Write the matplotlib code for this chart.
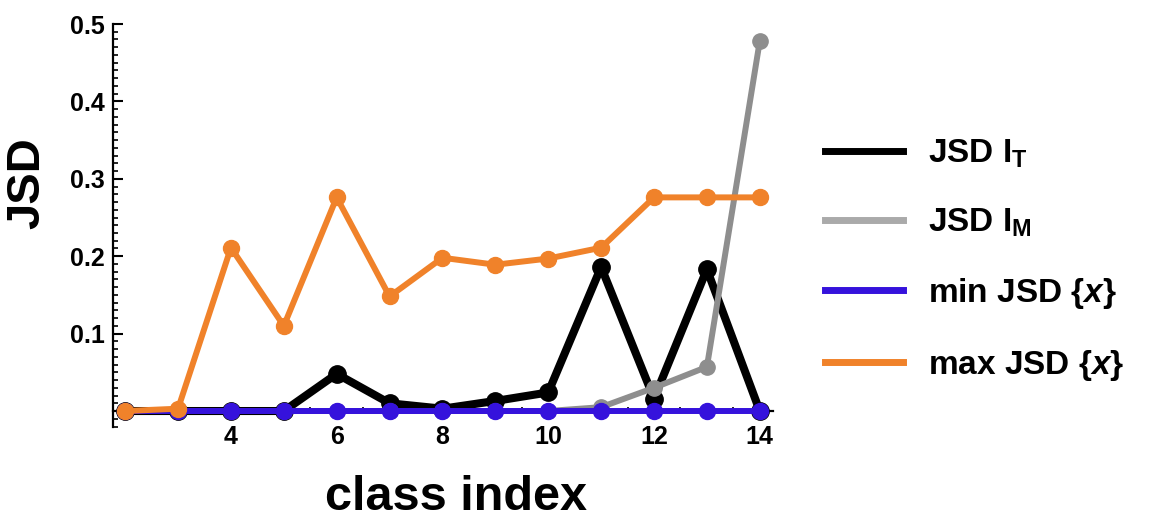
import matplotlib
matplotlib.use("Agg")
import matplotlib.pyplot as plt
from matplotlib.ticker import MultipleLocator

plt.rcParams['font.family'] = ['Liberation Sans', 'DejaVu Sans']
plt.rcParams['font.weight'] = 'bold'
plt.rcParams['mathtext.fontset'] = 'custom'
plt.rcParams['mathtext.rm'] = 'Liberation Sans:bold'
plt.rcParams['mathtext.bf'] = 'Liberation Sans:bold'
plt.rcParams['mathtext.it'] = 'Liberation Sans:bold:italic'

# ---- data ----
class_index = [2, 3, 4, 5, 6, 7, 8, 9, 10, 11, 12, 13, 14]
jsd_IT = [0.0, 0.0, 0.0, 0.0, 0.048, 0.010, 0.003, 0.013, 0.024, 0.186, 0.016, 0.183, 0.0]
jsd_IM = [0.0, 0.0, 0.0, 0.0, 0.0, 0.0, 0.0, 0.0, 0.0, 0.005, 0.030, 0.057, 0.478]
min_jsd = [0.0, 0.0, 0.0, 0.0, 0.0, 0.0, 0.0, 0.0, 0.0, 0.0, 0.0, 0.0, 0.0]
max_jsd = [0.0, 0.003, 0.211, 0.110, 0.276, 0.148, 0.198, 0.189, 0.197, 0.211, 0.276, 0.276, 0.276]

series_labels = [r'JSD I$_{\mathrm{T}}$', r'JSD I$_{\mathrm{M}}$',
                 r'min JSD {$\mathit{x}$}', r'max JSD {$\mathit{x}$}']
xtick_pos = [4, 6, 8, 10, 12, 14]
xtick_labels = ['4', '6', '8', '10', '12', '14']
ytick_pos = [0.1, 0.2, 0.3, 0.4, 0.5]
ytick_labels = ['0.1', '0.2', '0.3', '0.4', '0.5']

c_black = '#000000'
c_gray = '#8e8e8e'
c_blue = '#3512dc'
c_orange = '#f0822a'

W, H = 1162, 520
fig = plt.figure(figsize=(W / 100, H / 100), dpi=100)
ax = fig.add_axes([113 / W, 1 - 426.5 / H, 660 / W, (426.5 - 24) / H])

l1, = ax.plot(class_index, jsd_IT, '-o', color=c_black, lw=5.8, ms=12.5, zorder=3,
              label=series_labels[0], clip_on=False)
l2, = ax.plot(class_index, jsd_IM, '-o', color=c_gray, lw=4.3, ms=11, zorder=4,
              label=series_labels[1], clip_on=False)
l3, = ax.plot(class_index, min_jsd, '-o', color=c_blue, lw=4.3, ms=11.5, zorder=5,
              label=series_labels[2], clip_on=False)
l4, = ax.plot(class_index, max_jsd, '-o', color=c_orange, lw=4.3, ms=11.5, zorder=6,
              label=series_labels[3], clip_on=False)

ax.set_xlim(1.77, 14.25)
ax.set_ylim(-0.02, 0.5)

for s in ['top', 'right']:
    ax.spines[s].set_visible(False)
ax.spines['bottom'].set_position(('data', 0))
ax.spines['bottom'].set_linewidth(1.6)
ax.spines['left'].set_linewidth(1.6)
ax.spines['bottom'].set_zorder(2)

ax.set_xticks(xtick_pos)
ax.set_xticklabels(xtick_labels)
ax.xaxis.set_minor_locator(MultipleLocator(0.5))
ax.set_yticks(ytick_pos)
ax.set_yticklabels(ytick_labels)
ax.yaxis.set_minor_locator(MultipleLocator(0.01))

ax.tick_params(axis='x', which='major', direction='in', length=6, width=1.5,
               labelsize=18, pad=10)
ax.tick_params(axis='x', which='minor', direction='in', length=3, width=1.2)
ax.tick_params(axis='y', which='major', direction='in', length=7, width=1.5,
               labelsize=18, pad=6)
ax.tick_params(axis='y', which='minor', direction='in', length=3.5, width=1.2)
for t in ax.get_xticklabels() + ax.get_yticklabels():
    t.set_fontweight('bold')

fig.text(27 / W, 1 - 183 / H, 'JSD', rotation=90, ha='center', va='center',
         fontsize=34, fontweight='bold')
fig.text(456 / W, 1 - 497 / H, 'class index', ha='center', va='center',
         fontsize=35, fontweight='bold')

leg = ax.legend(handles=[l1, l2, l3, l4], loc='upper left',
                bbox_to_anchor=(825 / W, 1 - 138 / H), bbox_transform=fig.transFigure,
                frameon=False, fontsize=24, handlelength=2.35, handletextpad=0.75,
                labelspacing=1.1, borderpad=0, borderaxespad=0)
for line in leg.get_lines():
    line.set_marker('None')
    line.set_linewidth(5)
leg.get_lines()[1].set_color('#aaaaaa')
for t in leg.get_texts():
    t.set_fontweight('bold')

fig.savefig('out.png', dpi=100)
